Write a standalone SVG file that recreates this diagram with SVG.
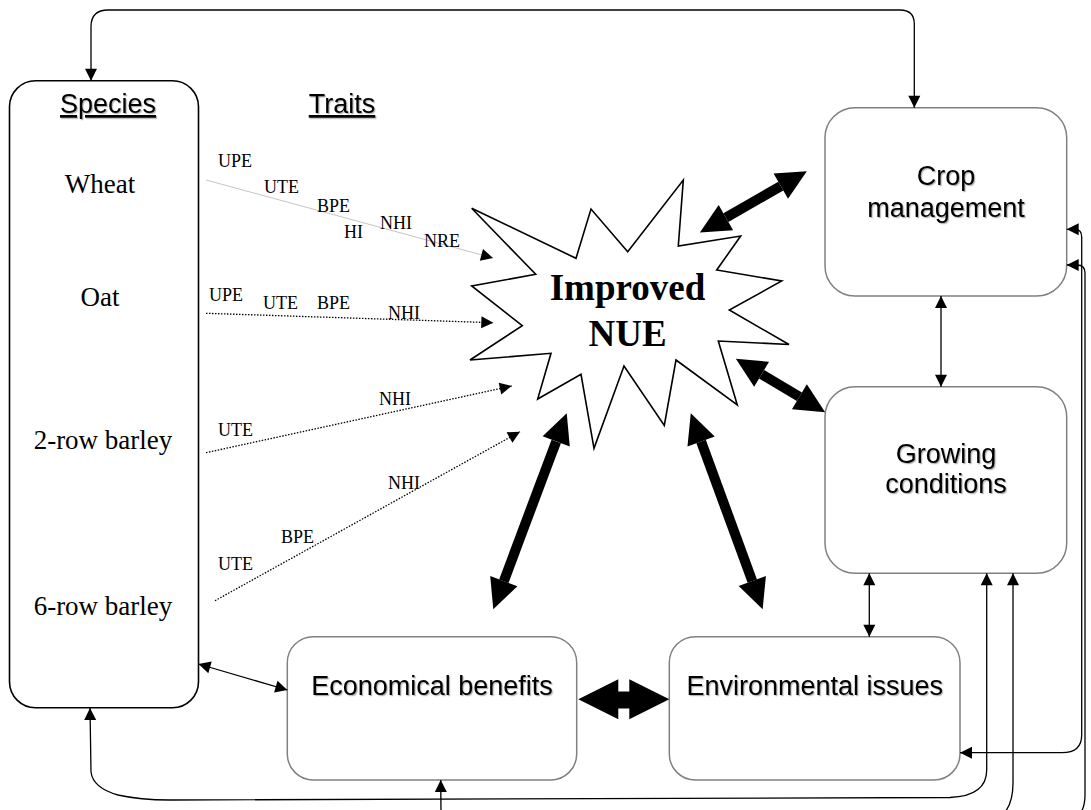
<svg xmlns="http://www.w3.org/2000/svg" width="1091" height="810" viewBox="0 0 1091 810">
<defs>
<style>
.box{fill:#fff;stroke:#808080;stroke-width:1.5}
.sp{fill:#fff;stroke:#000;stroke-width:1.6}
.lbl{font-family:"Liberation Sans",Arial,sans-serif;font-size:27px;fill:#000;filter:url(#sh)}
.hd{font-family:"Liberation Sans",Arial,sans-serif;font-size:27px;fill:#000;text-decoration:underline;filter:url(#sh)}
.nm{font-family:"Liberation Serif","Times New Roman",serif;font-size:27px;fill:#000}
.tr{font-family:"Liberation Serif","Times New Roman",serif;font-size:18px;fill:#000}
.thin{fill:none;stroke:#000;stroke-width:1.3;marker-start:url(#ah);marker-end:url(#ah)}
.one{fill:none;stroke:#000;stroke-width:1.3;marker-end:url(#ah)}
.dot{fill:none;stroke:#000;stroke-width:1.3;stroke-dasharray:1.5 1.5;marker-end:url(#ah)}
.gry{fill:none;stroke:#c4c4c4;stroke-width:1;marker-end:url(#ah)}
.big{fill:none;stroke:#000;stroke-width:10;marker-start:url(#bh);marker-end:url(#bh)}
</style>
<filter id="sh" x="-5%" y="-20%" width="110%" height="140%">
<feDropShadow dx="1.2" dy="1.2" stdDeviation="0.6" flood-color="#000" flood-opacity="0.3"/>
</filter>
<marker id="ah" markerUnits="userSpaceOnUse" markerWidth="14" markerHeight="14" refX="12" refY="6" orient="auto-start-reverse" overflow="visible">
<path d="M0,0 L12,6 L0,12 z" fill="#000"/>
</marker>
<marker id="bh" markerUnits="userSpaceOnUse" markerWidth="32" markerHeight="32" refX="0" refY="15" orient="auto-start-reverse" overflow="visible">
<path d="M0,0.5 L30,15 L0,29.5 z" fill="#000"/>
</marker>
</defs>
<rect width="1091" height="810" fill="#fff"/>

<g id="species">
<rect class="sp" x="9.5" y="80.7" width="189" height="627" rx="26" ry="26"/>
<text class="hd" x="108" y="113" text-anchor="middle">Species</text>
<text class="nm" x="100" y="193" text-anchor="middle">Wheat</text>
<text class="nm" x="100" y="306" text-anchor="middle">Oat</text>
<text class="nm" x="103" y="449" text-anchor="middle">2-row barley</text>
<text class="nm" x="103" y="615" text-anchor="middle">6-row barley</text>
</g>

<g id="traits">
<text class="hd" x="342" y="113" text-anchor="middle">Traits</text>
</g>

<g id="nue">
<polygon points="471.7,208.3 576,258.3 591,209 627.7,251.7 683.3,180 678.3,246 740.7,236 716.7,270 781.7,281 729.3,310 789,344.5 718.3,341 737.3,405 676,360 664.3,425.5 624,366 594,448.3 581,374.3 537.7,399 551,353.3 470,360 522.3,325.7 471.7,286 535.7,274.3" fill="#fff" stroke="#000" stroke-width="1.6" stroke-linejoin="miter"/>
<text x="627.5" y="300" text-anchor="middle" font-family="'Liberation Serif','Times New Roman',serif" font-weight="bold" font-size="37">Improved</text>
<text x="627.5" y="345.7" text-anchor="middle" font-family="'Liberation Serif','Times New Roman',serif" font-weight="bold" font-size="37">NUE</text>
</g>

<g id="crop">
<rect class="box" x="825" y="107.7" width="241.7" height="188.3" rx="30" ry="30"/>
<text class="lbl" x="946" y="185" text-anchor="middle">Crop</text>
<text class="lbl" x="946" y="216.7" text-anchor="middle">management</text>
</g>

<g id="growing">
<rect class="box" x="825" y="386.7" width="241.7" height="186.6" rx="30" ry="30"/>
<text class="lbl" x="946" y="463" text-anchor="middle">Growing</text>
<text class="lbl" x="946" y="493" text-anchor="middle">conditions</text>
</g>

<g id="economical">
<rect class="box" x="287.3" y="636.7" width="289.4" height="143.3" rx="26" ry="26"/>
<text class="lbl" x="432" y="695" text-anchor="middle">Economical benefits</text>
</g>

<g id="environmental">
<rect class="box" x="669.3" y="636.7" width="290.7" height="143.3" rx="26" ry="26"/>
<text class="lbl" x="814.7" y="695" text-anchor="middle">Environmental issues</text>
</g>

<g id="connectors">
<path class="gry" d="M206,180 L493,258"/>
<path class="dot" d="M206,313.3 L493.3,322.7"/>
<path class="dot" d="M206,452.7 L511.7,386"/>
<path class="dot" d="M215,600.7 L520,431.7"/>

<path class="big" d="M725.9,217.6 L780.8,186.1"/>
<path class="big" d="M761.6,374.2 L799.4,396.8"/>
<path class="big" d="M556.2,441.4 L503.8,581.2"/>
<path class="big" d="M701.1,441.5 L752.3,581.1"/>
<polygon points="578.3,699.3 618.3,679.3 618.3,691.5 629.3,691.5 629.3,679.3 669.3,699.3 629.3,719.3 629.3,708.5 618.3,708.5 618.3,719.3" fill="#000"/>

<path class="thin" d="M91,80.7 L91,26 Q91.5,10 108,10 L900,10 Q914.3,10 914.3,24 L914.3,107.7"/>
<path class="thin" d="M941,296 L941,386.7"/>
<path class="thin" d="M869.3,573.3 L869.3,636.7"/>
<path class="thin" d="M198.5,664 L287.3,690"/>
<path class="thin" d="M90,708 L91,772 Q93,788 118,795 Q140,800 170,800 L950,797.5 Q986.7,796 986.7,770 L986.7,573.3"/>
<path class="thin" d="M1066.7,229.3 L1075,229.3 Q1081.7,229.3 1081.7,237 L1081.7,735 Q1081.7,752.7 1062,752.7 L960,752.7"/>
<path class="one" d="M1081,812 Q1085,806 1085,795 L1085,273 Q1085,265 1077,265 L1066.7,265"/>
<path class="one" d="M1005,812 Q1013,802 1013,783 L1013,573.3"/>
<path class="one" d="M441,812 L440.7,780"/>

<text class="tr" x="218" y="167">UPE</text>
<text class="tr" x="264" y="193">UTE</text>
<text class="tr" x="317" y="212">BPE</text>
<text class="tr" x="344" y="238">HI</text>
<text class="tr" x="380" y="229">NHI</text>
<text class="tr" x="424" y="247">NRE</text>

<text class="tr" x="209" y="300.7">UPE</text>
<text class="tr" x="263" y="309">UTE</text>
<text class="tr" x="317" y="309">BPE</text>
<text class="tr" x="388" y="319">NHI</text>

<text class="tr" x="379" y="405">NHI</text>
<text class="tr" x="218" y="436">UTE</text>

<text class="tr" x="388" y="489">NHI</text>
<text class="tr" x="281" y="543">BPE</text>
<text class="tr" x="218" y="570">UTE</text>
</g>
</svg>
